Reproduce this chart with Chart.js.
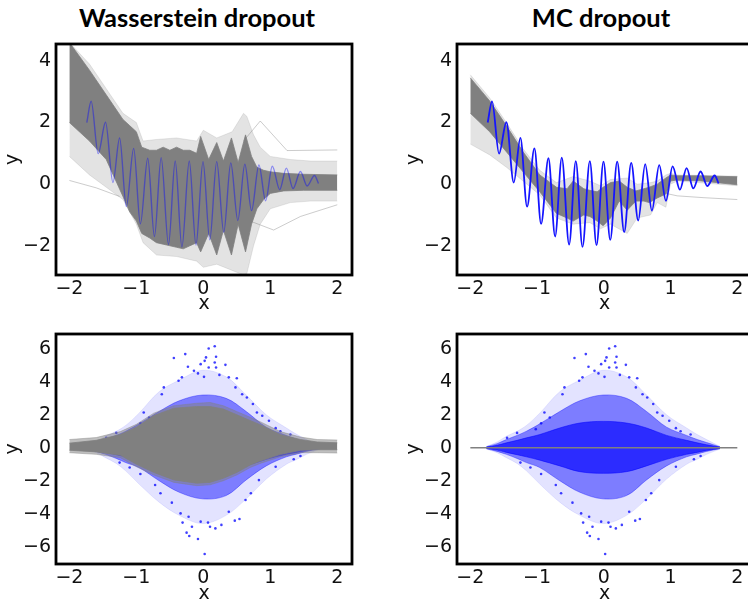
<!DOCTYPE html>
<html>
<head>
<meta charset="utf-8">
<script src="https://cdn.jsdelivr.net/npm/chart.js@4.4.1/dist/chart.umd.min.js"></script>
<style>
  html, body { margin: 0; padding: 0; background: #fff; overflow: hidden; width: 748px; height: 600px; }
  canvas { position: absolute; }
  .title { position: absolute; top: 3px; width: 300px; text-align: center;
           font: bold 25.5px/29px Lato, sans-serif; color: #000; }
</style>
</head>
<body>
<div class="title" style="left:47px">Wasserstein dropout</div>
<div class="title" style="left:451px">MC dropout</div>
<canvas id="wsLines" width="374" height="316" style="left:0;top:0"></canvas>
<canvas id="mcLines" width="360" height="316" style="left:401px;top:0"></canvas>
<canvas id="wsScatter" width="374" height="290" style="left:0;top:316px"></canvas>
<canvas id="mcScatter" width="360" height="290" style="left:401px;top:316px"></canvas>
<script>
// axis ranges and tick labels
const xMin = -2.2, xMax = 2.22;
const xTicks = [-2, -1, 0, 1, 2];
const yTicksTop = [-2, 0, 2, 4];
const yTicksBottom = [-6, -4, -2, 0, 2, 4, 6];

// ground-truth curve (extrema), shared by both top panels
const waveX = [-1.74, -1.675, -1.57, -1.46, -1.35, -1.25, -1.15, -1.04, -0.94, -0.83, -0.73, -0.63,
  -0.52, -0.42, -0.32, -0.21, -0.11, -0.005, 0.096, 0.2, 0.305, 0.41, 0.515, 0.62, 0.72, 0.83,
  0.93, 1.03, 1.14, 1.24, 1.34, 1.45, 1.55, 1.66, 1.72];
const waveY = [2.0, 2.69, 0.99, 2.01, 0.05, 1.5, -0.73, 1.16, -1.29, 0.84, -1.7, 0.86,
  -1.96, 0.75, -2.04, 0.75, -1.98, 0.73, -1.81, 0.73, -1.56, 0.69, -1.18, 0.65, -0.86, 0.62,
  -0.54, 0.58, -0.18, 0.52, -0.14, 0.41, -0.06, 0.28, 0.02];

// Wasserstein ensemble, top: dense core
const wsBandX = [-2, -1.7, -1.45, -1.2, -1.1, -1.0, -0.92, -0.8, -0.7, -0.6, -0.5, -0.4, -0.3, -0.2,
  -0.1, -0.04, 0.08, 0.2, 0.3, 0.42, 0.52, 0.63, 0.72, 0.8, 0.9, 1.0, 1.2, 1.5, 2.0];
const wsBandHi = [4.6, 3.7, 2.9, 2.1, 1.9, 1.7, 1.2, 1.1, 1.1, 1.2, 1.1, 1.2, 1.1, 1.1,
  1.0, 1.55, 0.8, 1.35, 0.75, 1.5, 0.7, 1.6, 0.9, 0.55, 0.45, 0.4, 0.35, 0.32, 0.3];
const wsBandLo = [2.0, 1.4, 0.8, -0.4, -0.9, -1.2, -1.6, -1.75, -1.9, -1.95, -2.0, -2.05, -2.1, -2.0,
  -1.9, -2.2, -1.6, -2.3, -1.5, -2.3, -1.3, -2.2, -1.3, -0.8, -0.5, -0.3, -0.22, -0.2, -0.2];
// Wasserstein ensemble, top: faint outer members
const wsSpreadX = [-2, -1.7, -1.45, -1.2, -1.0, -0.9, -0.7, -0.4, -0.1, 0.0, 0.2, 0.43, 0.6, 0.65,
  0.75, 0.85, 1.0, 1.3, 1.6, 2.0];
const wsSpreadHi = [4.6, 3.9, 3.1, 2.3, 2.0, 1.4, 1.45, 1.5, 1.4, 1.75, 1.5, 1.7, 2.3, 2.2,
  1.6, 1.2, 0.9, 0.8, 0.75, 0.75];
const wsSpreadLo = [0.9, 0.3, -0.1, -0.5, -1.3, -1.9, -2.3, -2.35, -2.5, -2.7, -2.6, -2.8, -2.95, -2.9,
  -2.0, -1.3, -0.8, -0.6, -0.55, -0.55];
const wsStrayX = [[-2, -1.6, -1.25], [0.6, 0.85, 1.25, 2.0], [0.7, 1.05, 1.45, 2.0]];
const wsStrayY = [[0.12, -0.12, -0.4], [1.4, 2.05, 1.09, 1.11], [-1.2, -1.49, -1.05, -0.67]];

// MC dropout ensemble, top
const mcBandX = [-2, -1.71, -1.46, -1.21, -0.96, -0.71, -0.55, -0.46, -0.3, -0.21, -0.1, -0.01,
  0.1, 0.23, 0.35, 0.48, 0.6, 0.68, 0.8, 0.93, 1.0, 1.08, 1.43, 2.0];
const mcBandHi = [3.45, 2.7, 1.9, 1.05, 0.3, -0.1, -0.15, 0.1, -0.15, -0.2, -0.25, -0.1,
  0.05, 0.1, -0.1, -0.22, -0.15, -0.1, 0.0, 0.2, 0.3, 0.27, 0.27, 0.24];
const mcBandLo = [2.3, 1.7, 1.05, 0.4, -0.25, -0.95, -1.1, -1.2, -1.0, -1.05, -1.2, -1.35,
  -1.1, -0.55, -0.85, -0.55, -0.55, -0.6, -0.45, -0.32, 0.1, 0.13, 0.11, -0.02];
const mcSpreadX = [-2, -1.71, -1.46, -1.21, -0.96, -0.71, -0.46, -0.21, -0.05, 0.1, 0.35, 0.5,
  0.7, 0.8, 0.93, 1.0, 1.1, 2.0];
const mcSpreadHi = [3.55, 2.8, 2.0, 1.15, 0.45, 0.05, 0.25, 0.1, -0.05, 0.15, 0.2, 0.0,
  0.05, 0.1, 0.3, 0.35, 0.3, 0.26];
const mcSpreadLo = [1.3, 0.95, 0.55, 0.1, -0.35, -1.1, -1.3, -1.25, -1.45, -1.3, -1.6, -1.1,
  -1.0, -0.6, -0.75, 0.0, 0.1, -0.05];
const mcStrayX = [[0.93, 1.1, 1.5, 2.0]];
const mcStrayY = [[-0.3, -0.38, -0.44, -0.5]];

// Wasserstein ensemble, bottom (predicted noise)
const wsLowX = [-2, -1.6, -1.24, -1.0, -0.74, -0.44, -0.1, 0.1, 0.3, 0.5, 0.7, 0.85, 1.15, 1.45, 1.7, 2.0];
const wsLowHi = [0.28, 0.45, 0.8, 1.25, 1.95, 2.4, 2.5, 2.5, 2.35, 2.0, 1.65, 1.4, 0.8, 0.5, 0.35, 0.3];
const wsLowLo = [-0.15, -0.25, -0.45, -1.0, -1.5, -1.95, -2.15, -2.1, -1.85, -1.5, -1.05, -0.8, -0.4, -0.15, -0.12, -0.12];
const wsLowSpreadHi = [0.5, 0.62, 0.98, 1.42, 2.1, 2.55, 2.7, 2.75, 2.55, 2.2, 1.85, 1.58, 0.98, 0.65, 0.5, 0.47];
const wsLowSpreadLo = [-0.3, -0.4, -0.6, -1.15, -1.65, -2.1, -2.3, -2.25, -2.0, -1.65, -1.2, -0.95, -0.55, -0.3, -0.3, -0.32];

// MC dropout, bottom: flat prediction
const mcFlatX = [-2, 2];
const mcFlatY = [0, 0];

// residual cloud: density envelopes
const cloudX = [-1.76, -1.6, -1.46, -1.3, -1.16, -0.96, -0.66, -0.36, -0.01, 0.34, 0.64, 0.94, 1.24, 1.4, 1.54, 1.74];
const cloudSparseHi = [0.08, 0.35, 0.7, 1.0, 1.35, 2.1, 3.4, 4.1, 4.7, 4.3, 3.2, 2.0, 1.2, 0.8, 0.5, 0.08];
const cloudSparseLo = [-0.08, -0.3, -0.6, -0.95, -1.4, -2.2, -3.3, -4.1, -4.6, -4.1, -3.1, -1.9, -1.0, -0.7, -0.4, -0.08];
const cloudMidHi = [0.06, 0.25, 0.5, 0.75, 1.0, 1.45, 2.2, 2.85, 3.2, 3.0, 2.2, 1.25, 0.75, 0.5, 0.32, 0.06];
const cloudMidLo = [-0.06, -0.22, -0.4, -0.65, -0.9, -1.2, -2.0, -2.7, -3.1, -2.9, -1.95, -1.1, -0.55, -0.38, -0.22, -0.06];
const cloudCoreHi = [0.04, 0.15, 0.3, 0.45, 0.6, 0.8, 1.2, 1.5, 1.6, 1.5, 1.2, 0.75, 0.45, 0.3, 0.18, 0.04];
const cloudCoreLo = [-0.04, -0.14, -0.28, -0.42, -0.55, -0.75, -1.1, -1.45, -1.55, -1.45, -1.1, -0.7, -0.4, -0.28, -0.16, -0.04];
// residual cloud: isolated samples
const outlierX = [0.17, 0.08, -0.27, -0.44, 0.19, 0.04, 0.02, 0.17, 0.33, -0.04, 0.08, -0.23, -0.14, 0.19,
  0.24, -0.08, 0.01, 0.38, 0.5, -0.32, -0.37, -0.59, -0.62, 0.48, 0.58, 0.65, 0.74, 0.8, -0.89, -0.81,
  0.88, 0.98, -0.94, 1.08, -1.02,
  0.02, -0.08, -0.21, -0.25, -0.17, 0.18, 0.1, 0.27, 0.47, 0.54, -0.31, -0.04, 0.07, -0.34, -0.22,
  0.38, -0.47, 0.63, 0.71, -0.64, -0.72, -0.94, 1.08, 0.83,
  -1.3, -1.25, 1.3, 1.35, -1.45, 1.45, -1.1, 1.15];
const outlierY = [6.16, 6.02, 5.68, 5.44, 5.52, 5.48, 5.27, 5.17, 5.03, 5.07, 4.87, 4.91, 4.67, 4.87,
  4.42, 4.51, 4.3, 4.27, 4.22, 4.27, 4.06, 3.66, 3.25, 3.66, 3.25, 3.05, 2.65, 2.14, 2.14, 1.84,
  1.94, 1.64, 1.48, 1.19, 1.13,
  -6.44, -5.53, -5.35, -5.15, -4.79, -4.89, -4.79, -4.68, -4.42, -4.32, -4.54, -4.48, -4.54, -3.98, -4.18,
  -3.88, -3.33, -3.17, -2.76, -2.76, -2.26, -1.59, -1.15, -1.96,
  0.9, -0.9, 0.8, -0.7, 0.6, -0.5, -1.2, 1.0];

const GRAY = 'rgb(128,128,128)';
const GRAY_FAINT = 'rgba(128,128,128,0.22)';

const pts = (xs, ys) => xs.map((x, i) => ({x, y: ys[i]}));

// two datasets: upper edge filled down to lower edge
function band(xs, hi, lo, color, order, tension = 0) {
  const base = {pointRadius: 0, borderWidth: 0.8, borderColor: color, tension, order, clip: 0};
  return [
    {...base, data: pts(xs, hi), fill: '+1', backgroundColor: color},
    {...base, data: pts(xs, lo), fill: false},
  ];
}

function line(xs, ys, color, width, order, smooth) {
  return {data: pts(xs, ys), borderColor: color, borderWidth: width, pointRadius: 0, fill: false,
    order, clip: 0, tension: 0, cubicInterpolationMode: smooth ? 'monotone' : 'default'};
}

function strays(xsList, ysList, order) {
  return xsList.map((xs, i) => line(xs, ysList[i], 'rgba(128,128,128,0.4)', 1, order, false));
}

function cloud(order) {
  return [
    ...band(cloudX, cloudSparseHi, cloudSparseLo, 'rgba(0,0,255,0.11)', order + 3, 0.35),
    ...band(cloudX, cloudMidHi, cloudMidLo, 'rgba(0,0,255,0.45)', order + 2, 0.35),
    ...band(cloudX, cloudCoreHi, cloudCoreLo, 'rgba(0,0,255,0.65)', order + 1, 0.35),
    {data: pts(outlierX, outlierY), showLine: false, pointRadius: 1.3, borderWidth: 0,
      pointBackgroundColor: 'rgba(0,0,255,0.75)', order, clip: 0},
  ];
}

const frame = {
  id: 'frame',
  afterDatasetsDraw(chart) {
    const {ctx, chartArea: a} = chart;
    ctx.save();
    ctx.strokeStyle = '#000';
    ctx.lineWidth = 2.8;
    ctx.strokeRect(a.left, a.top, a.right - a.left, a.bottom - a.top);
    ctx.restore();
  },
};

function scales(yMin, yMax, yTicks, xAxisHeight) {
  const font = {family: 'DejaVu Sans', size: 19};
  const fmt = v => (v < 0 ? '\u2212' + Math.abs(v) : String(v));
  return {
    x: {
      type: 'linear', min: xMin, max: xMax,
      grid: {display: false, drawTicks: false}, border: {display: false},
      afterBuildTicks: s => { s.ticks = xTicks.map(v => ({value: v})); },
      afterFit: s => { s.height = xAxisHeight; },
      ticks: {font, color: '#111', padding: 3, maxRotation: 0, autoSkip: false, callback: fmt},
      title: {display: true, text: 'x', font, color: '#111', padding: {top: 0, bottom: 1}},
    },
    y: {
      type: 'linear', min: yMin, max: yMax,
      grid: {display: false, drawTicks: false}, border: {display: false},
      afterBuildTicks: s => { s.ticks = yTicks.map(v => ({value: v})); },
      afterFit: s => { s.width = 56; },
      ticks: {font, color: '#111', padding: 5, autoSkip: false, callback: fmt},
      title: {display: true, text: 'y', font, color: '#111', padding: {top: 2, bottom: 0}},
    },
  };
}

function draw(id, datasets, opts) {
  new Chart(document.getElementById(id), {
    type: 'line',
    data: {datasets},
    options: {
      responsive: false,
      animation: false,
      layout: {padding: {top: opts.top, right: opts.right, left: 0, bottom: 0}},
      plugins: {legend: {display: false}, tooltip: {enabled: false}},
      scales: scales(opts.yMin, opts.yMax, opts.yTicks, opts.xAxisHeight),
    },
    plugins: [frame],
  });
}

// top left: Wasserstein dropout ensemble with the true curve
draw('wsLines', [
  line(waveX, waveY, 'rgba(0,0,255,0.4)', 1.4, 1, true),
  ...band(wsBandX, wsBandHi, wsBandLo, GRAY, 3),
  ...strays(wsStrayX, wsStrayY, 4),
  ...band(wsSpreadX, wsSpreadHi, wsSpreadLo, GRAY_FAINT, 5),
], {top: 44, right: 22, yMin: -2.95, yMax: 4.55, yTicks: yTicksTop, xAxisHeight: 41});

// top right: MC dropout ensemble with the true curve
draw('mcLines', [
  line(waveX, waveY, 'rgb(20,20,255)', 1.8, 1, true),
  ...band(mcBandX, mcBandHi, mcBandLo, GRAY, 3),
  ...strays(mcStrayX, mcStrayY, 4),
  ...band(mcSpreadX, mcSpreadHi, mcSpreadLo, GRAY_FAINT, 5),
], {top: 44, right: 9, yMin: -2.95, yMax: 4.55, yTicks: yTicksTop, xAxisHeight: 41});

// bottom left: residual cloud under the Wasserstein spread
draw('wsScatter', [
  ...band(wsLowX, wsLowHi, wsLowLo, GRAY, 2),
  ...band(wsLowX, wsLowSpreadHi, wsLowSpreadLo, 'rgba(128,128,128,0.5)', 3),
  ...cloud(6),
], {top: 18, right: 22, yMin: -7.05, yMax: 6.9, yTicks: yTicksBottom, xAxisHeight: 42});

// bottom right: residual cloud with the flat MC prediction
draw('mcScatter', [
  line(mcFlatX, mcFlatY, GRAY, 1.5, 1, false),
  ...cloud(6),
], {top: 18, right: 9, yMin: -7.05, yMax: 6.9, yTicks: yTicksBottom, xAxisHeight: 42});
</script>
</body>
</html>
